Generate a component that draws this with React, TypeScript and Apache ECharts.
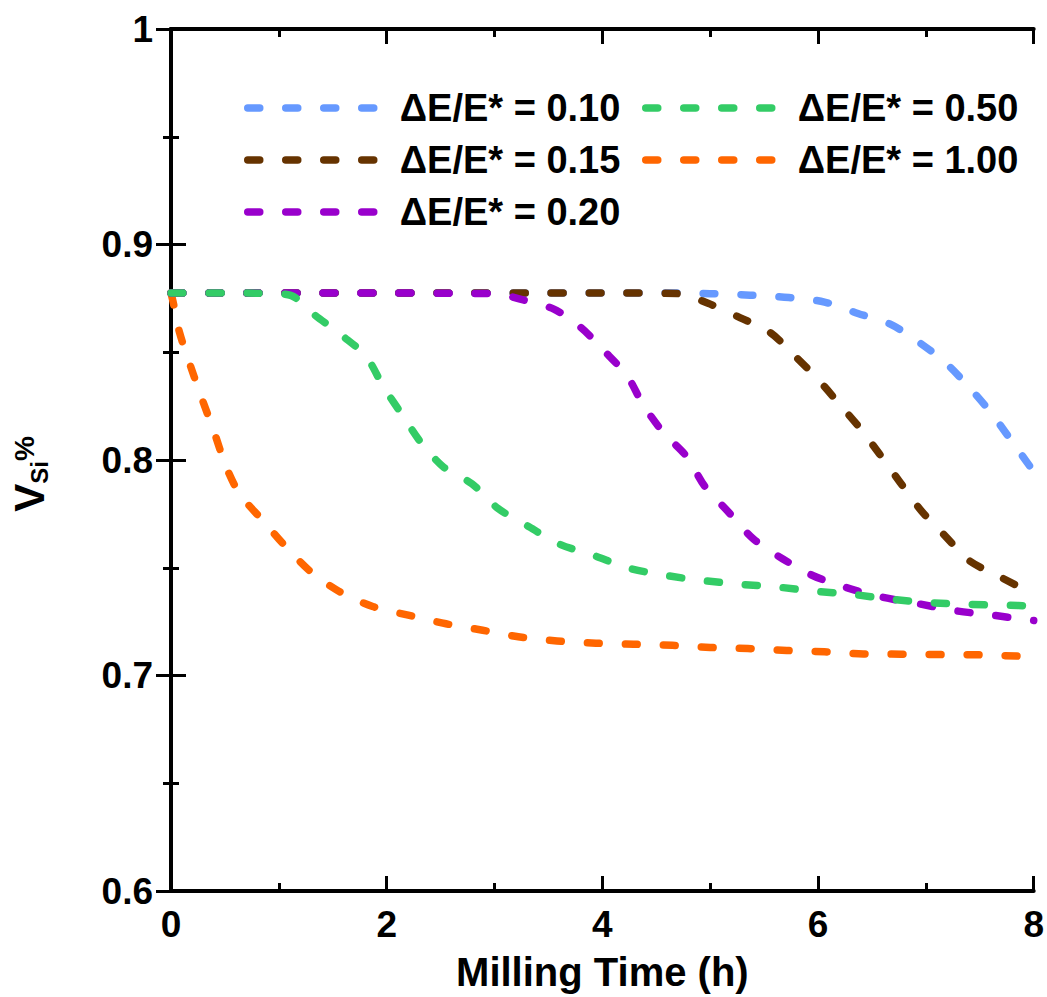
import React, { useEffect, useRef } from "react";
import * as echarts from "echarts";

const seriesNames = ["ΔE/E* = 0.10", "ΔE/E* = 0.15", "ΔE/E* = 0.20", "ΔE/E* = 0.50", "ΔE/E* = 1.00"];
const seriesColors = ["#6699ff", "#663300", "#9900cc", "#33cc66", "#ff6600"];

const data010: number[][] = [
  [0, 0.8775], [2, 0.8775], [4, 0.8775], [4.6, 0.8775], [5.0, 0.8772], [5.37, 0.8765], [5.73, 0.8754],
  [6.06, 0.8733], [6.37, 0.868], [6.67, 0.863], [6.94, 0.8545], [7.18, 0.8452], [7.39, 0.8344],
  [7.59, 0.8228], [7.76, 0.8113], [7.96, 0.7974], [8, 0.795],
];
const data015: number[][] = [
  [0, 0.8775], [2, 0.8775], [4, 0.8775], [4.7, 0.8772], [4.98, 0.8727], [5.28, 0.866], [5.56, 0.859],
  [5.77, 0.849], [5.99, 0.838], [6.19, 0.8264], [6.39, 0.8147], [6.57, 0.8028], [6.76, 0.7897],
  [6.96, 0.7763], [7.18, 0.7647], [7.4, 0.7534], [7.69, 0.7457], [7.96, 0.7387], [8, 0.7375],
];
const data020: number[][] = [
  [0, 0.8775], [1.5, 0.8775], [3.0, 0.8772], [3.22, 0.8749], [3.55, 0.87], [3.8, 0.8615], [4.01, 0.851],
  [4.23, 0.839], [4.38, 0.8255], [4.57, 0.8125], [4.78, 0.8017], [4.95, 0.7878], [5.17, 0.7758],
  [5.4, 0.7634], [5.67, 0.7542], [5.95, 0.7464], [6.25, 0.741], [6.59, 0.7364], [6.93, 0.7333],
  [7.28, 0.73], [7.62, 0.728], [7.93, 0.7259], [8, 0.7255],
];
const data050: number[][] = [
  [0, 0.8775], [0.5, 0.8775], [0.9, 0.8773], [1.11, 0.8764], [1.34, 0.867], [1.59, 0.8576], [1.81, 0.848],
  [1.97, 0.834], [2.15, 0.8205], [2.32, 0.808], [2.53, 0.7966], [2.79, 0.789], [3.03, 0.7776],
  [3.32, 0.769], [3.6, 0.761], [3.92, 0.7557], [4.24, 0.7499], [4.58, 0.7465], [4.94, 0.744],
  [5.29, 0.7423], [5.63, 0.741], [5.99, 0.739], [6.34, 0.7375], [6.69, 0.7353], [7.04, 0.7338],
  [7.39, 0.733], [7.75, 0.7326], [8, 0.7322],
];
const data100: number[][] = [
  [0, 0.8775], [0.03, 0.871], [0.08, 0.859], [0.185, 0.843], [0.29, 0.828], [0.4, 0.813], [0.51, 0.797],
  [0.64, 0.784], [0.85, 0.772], [1.06, 0.76], [1.3, 0.748], [1.56, 0.739], [1.87, 0.732], [2.2, 0.728],
  [2.55, 0.724], [2.89, 0.721], [3.22, 0.718], [3.58, 0.716], [3.94, 0.715], [4.29, 0.7145],
  [4.65, 0.714], [5.0, 0.713], [5.35, 0.7125], [5.71, 0.7116], [6.06, 0.711], [6.42, 0.71],
  [6.77, 0.7099], [7.13, 0.7097], [7.48, 0.7096], [7.84, 0.709], [8, 0.7088],
];
const seriesData = [data010, data015, data020, data050, data100];
// drawing order bottom -> top
const drawOrder = [4, 0, 1, 2, 3];

const FONT = "'Liberation Sans', Arial, sans-serif";
const DASH = [12, 26];
const LW = 7.5;

export default function App() {
  const ref = useRef<HTMLDivElement>(null);
  useEffect(() => {
    if (!ref.current) return;
    const chart = echarts.init(ref.current, null, { renderer: "svg" });
    const legendCommon = {
      orient: "vertical" as const,
      itemWidth: 147,
      itemHeight: 14,
      itemGap: 14,
      selectedMode: false,
      padding: 0,
      textStyle: { fontFamily: FONT, fontWeight: "bold", fontSize: 38, color: "#000", lineHeight: 38 },
      lineStyle: { width: LW, type: DASH, cap: "round" },
      itemStyle: { opacity: 0 },
    };
    const axisCommon = {
      axisLine: { lineStyle: { color: "#000", width: 4 } },
      axisTick: { inside: true, length: 15, lineStyle: { color: "#000", width: 3 } },
      minorTick: { show: true, splitNumber: 2, length: 8, lineStyle: { color: "#000", width: 3 } },
      splitLine: { show: false },
    };
    chart.setOption({
      animation: false,
      backgroundColor: "#fff",
      grid: { left: 170, right: 13, top: 29, bottom: 105, containLabel: false },
      legend: [
        { ...legendCommon, left: 244, top: 89, data: seriesNames.slice(0, 3) },
        { ...legendCommon, left: 642, top: 89, data: seriesNames.slice(3) },
      ],
      xAxis: [
        {
          type: "value", min: 0, max: 8, interval: 2, position: "bottom",
          ...axisCommon,
          axisLabel: { margin: 15, fontFamily: FONT, fontWeight: "bold", fontSize: 37, color: "#000" },
          name: "Milling Time (h)", nameLocation: "middle", nameGap: 61,
          nameTextStyle: { fontFamily: FONT, fontWeight: "bold", fontSize: 40, color: "#000" },
        },
        {
          type: "value", min: 0, max: 8, interval: 2, position: "top",
          ...axisCommon, axisLabel: { show: false },
        },
      ],
      yAxis: [
        {
          type: "value", min: 0.6, max: 1, interval: 0.1, position: "left",
          ...axisCommon,
          axisLabel: { margin: 18, fontFamily: FONT, fontWeight: "bold", fontSize: 37, color: "#000" },
          name: "{v|V}{s|Si}{p|%}", nameLocation: "middle", nameRotate: 90, nameGap: 120,
          nameTextStyle: {
            fontFamily: FONT, fontWeight: "bold", color: "#000",
            padding: [0, 28, 0, 0],
            rich: {
              v: { fontFamily: FONT, fontWeight: "bold", fontSize: 42, color: "#000" },
              s: { fontFamily: FONT, fontWeight: "bold", fontSize: 24, color: "#000", padding: [20, 0, 0, 0] },
              p: { fontFamily: FONT, fontWeight: "bold", fontSize: 28, color: "#000", padding: [0, 0, 10, 0] },
            },
          },
        },
        {
          type: "value", min: 0.6, max: 1, interval: 0.1, position: "right",
          ...axisCommon, axisLabel: { show: false },
        },
      ],
      series: drawOrder.map((i) => ({
        name: seriesNames[i],
        type: "line",
        xAxisIndex: 0,
        yAxisIndex: 0,
        data: seriesData[i],
        smooth: 0.3,
        symbol: "none",
        clip: true,
        color: seriesColors[i],
        lineStyle: { color: seriesColors[i], width: LW, type: DASH, cap: "round", join: "round" },
      })),
    });
    return () => chart.dispose();
  }, []);
  return (
    <div
      ref={ref}
      style={{ position: "absolute", left: 0, top: 0, width: 1047, height: 997 }}
    />
  );
}
